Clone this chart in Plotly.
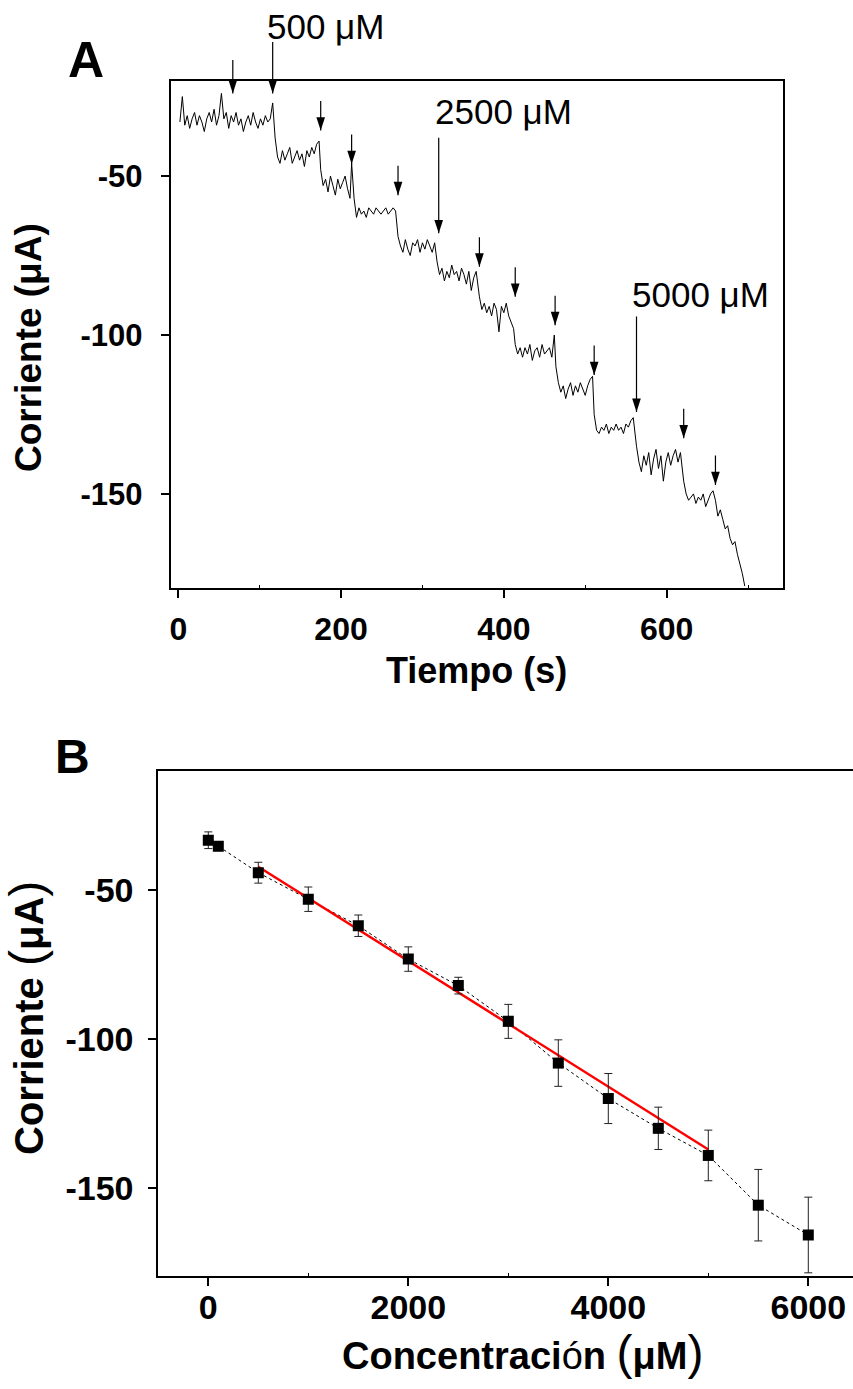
import plotly.graph_objects as go

# ---------------- Panel A: amperometric trace ----------------
sample_step_s = 3
seg_start_s = [2, 116, 175, 213, 270, 318, 370, 414, 464, 511, 563, 621, 660]
seg_0 = [-33, -25, -34, -31, -35, -32, -30, -34, -31, -33, -36, -32, -30, -33, -29, -34, -31, -24, -32,
         -30, -35, -31, -33, -30, -34, -32, -36, -33, -31, -34, -30, -33, -35, -32, -34, -31, -33, -32]
seg_1 = [-27, -38, -44, -46, -42, -45, -43, -41, -46, -44, -42, -45, -43, -47, -42, -44, -41, -43, -40, -39]
seg_2 = [-48, -53, -51, -55, -50, -53, -56, -51, -54, -52, -50, -54, -57]
seg_3 = [-46, -57, -63, -60, -62, -61, -63, -60, -61, -62, -60, -61, -62, -61, -60, -62, -61, -60, -61]
seg_4 = [-69, -72, -74, -70, -73, -75, -71, -72, -70, -74, -71, -73, -70, -72, -74, -71]
seg_5 = [-77, -81, -79, -83, -80, -82, -78, -81, -80, -83, -79, -81, -84, -80, -86, -82, -80]
seg_6 = [-88, -92, -90, -93, -91, -94, -90, -92, -99, -91, -93, -90, -94, -96, -98]
seg_7 = [-103, -106, -104, -107, -104, -106, -103, -108, -105, -104, -107, -103, -106, -105, -104, -107, -100]
seg_8 = [-110, -115, -118, -116, -120, -117, -115, -119, -116, -118, -115, -117, -119, -116, -114, -113]
seg_9 = [-125, -130, -131, -129, -130, -128, -131, -129, -130, -128, -130, -129, -131, -128, -129, -127, -126]
seg_10 = [-135, -140, -143, -138, -141, -137, -144, -139, -136, -142, -138, -146, -140, -137, -141, -138,
          -136, -140, -137]
seg_11 = [-146, -150, -152, -151, -150, -153, -151, -152, -150, -154, -152, -150, -149]
seg_12 = [-152, -157, -155, -158, -161, -160, -164, -166, -165, -169, -172, -175, -179]
segments = [seg_0, seg_1, seg_2, seg_3, seg_4, seg_5, seg_6, seg_7, seg_8, seg_9, seg_10, seg_11, seg_12]

arrow_time_s = [67, 116, 175, 213, 270, 320, 370, 414, 463, 511, 563, 621, 660]
arrow_tip_uA = [-24, -24, -35.7, -46.2, -56, -68, -78.5, -88, -96.9, -112.6, -124.2, -132.5, -147.2]
arrow_labels = ["", "500 μM", "", "", "", "2500 μM", "", "", "", "", "5000 μM", "", ""]

time_ticks = [0, 200, 400, 600]
current_ticks = [-50, -100, -150]
current_tick_text = ["-50", "-100", "-150"]

# ---------------- Panel B: calibration ----------------
conc_uM = [0, 100, 500, 1000, 1500, 2000, 2500, 3000, 3500, 4000, 4500, 5000, 5500, 6000]
current_uA = [-33.3, -35.3, -44.2, -53.1, -62.0, -73.2, -82.1, -94.1, -108.1, -120.0, -130.0, -139.1, -155.8, -165.8]
error_uA = [2.8, 1.5, 3.5, 4.1, 3.6, 4.1, 2.8, 5.7, 7.8, 8.4, 7.1, 8.5, 12.0, 12.7]
fit_conc_uM = [500, 5000]
fit_current_uA = [-42.2, -137.1]
conc_ticks = [0, 2000, 4000, 6000]

W, H = 853, 1389
FONT = "Liberation Sans, Arial, sans-serif"

time_s, trace_uA = [], []
for start, vals in zip(seg_start_s, segments):
    for i, v in enumerate(vals):
        time_s.append(start + sample_step_s * i)
        trace_uA.append(v)

fig = go.Figure()
fig.add_trace(go.Scatter(x=time_s, y=trace_uA, mode="lines",
                         line=dict(color="black", width=1), xaxis="x", yaxis="y", showlegend=False))
fig.add_trace(go.Scatter(x=arrow_time_s, y=arrow_tip_uA, mode="markers", cliponaxis=False,
                         marker=dict(symbol="arrow", angle=180, size=14, color="black", line=dict(width=0)),
                         xaxis="x", yaxis="y", showlegend=False))

# Panel B traces
fig.add_trace(go.Scatter(x=conc_uM, y=current_uA, mode="lines",
                         line=dict(color="black", width=1, dash="dot"), xaxis="x2", yaxis="y2", showlegend=False))
fig.add_trace(go.Scatter(x=fit_conc_uM, y=fit_current_uA, mode="lines",
                         line=dict(color="#ff0000", width=2.5), xaxis="x2", yaxis="y2", showlegend=False))
fig.add_trace(go.Scatter(x=conc_uM, y=current_uA, mode="markers",
                         marker=dict(symbol="square", size=11, color="black"),
                         error_y=dict(type="data", array=error_uA, color="#222222", thickness=1, width=4),
                         xaxis="x2", yaxis="y2", showlegend=False))

annotations = []
for t, tip, lab in zip(arrow_time_s, arrow_tip_uA, arrow_labels):
    if lab == "":
        length = 35 if t < 100 else 31
    elif lab.startswith("500 "):
        length = 53
    else:
        length = 97
    annotations.append(dict(x=t, y=tip, xref="x", yref="y", ax=0, ay=-length, text="",
                            showarrow=True, arrowhead=0, arrowwidth=1.2, arrowcolor="black"))

label_pos = {"500 μM": (265, 26), "2500 μM": (433, 112), "5000 μM": (630, 294)}
for lab, (px, py) in label_pos.items():
    annotations.append(dict(x=px / W, y=1 - py / H, xref="paper", yref="paper", text=lab,
                            showarrow=False, xanchor="left", yanchor="middle",
                            font=dict(family=FONT, size=35, color="black")))

def ptext(txt, px, py, size, angle=0, bold=True):
    return dict(x=px / W, y=1 - py / H, xref="paper", yref="paper", text=txt, showarrow=False,
                xanchor="center", yanchor="middle", textangle=angle,
                font=dict(family=FONT, size=size, color="black", weight="bold" if bold else "normal"))

PAREN = '<span style="font-weight:normal;font-size:48px">{}</span>'
annotations += [
    ptext("A", 86, 60, 50),
    ptext("B", 72, 757, 48),
    ptext("Tiempo (s)", 477, 670, 36),
    ptext("Corriente (μA)", 29, 348, 37, angle=-90),
    ptext("Corriente " + PAREN.format("(") + "μA" + PAREN.format(")"), 27, 1018, 40, angle=-90),
    ptext('Concentraci<span style="font-weight:normal">ó</span>n ' + PAREN.format("(") + "μM" + PAREN.format(")"),
          522, 1352, 38),
]

axis_common = dict(showgrid=False, zeroline=False, showline=True, linecolor="black", linewidth=2,
                   ticks="outside", ticklen=8, tickwidth=2, tickcolor="black")

fig.update_layout(
    width=W, height=H, margin=dict(l=0, r=0, t=0, b=0),
    paper_bgcolor="white", plot_bgcolor="white",
    xaxis=dict(domain=[170.7 / W, 783 / W], anchor="y", range=[-9.3, 743],
               tickvals=time_ticks, mirror=True, ticklabelstandoff=4,
               minor=dict(tickvals=[100, 300, 500, 700], ticks="inside", ticklen=3, tickwidth=1, tickcolor="black"),
               tickfont=dict(family=FONT, size=32, color="black", weight="bold"), **axis_common),
    yaxis=dict(domain=[1 - 588 / H, 1 - 80.7 / H], anchor="x", range=[-179.6, -20],
               tickvals=current_ticks, ticktext=current_tick_text, mirror=True, ticklabelstandoff=12,
               tickfont=dict(family=FONT, size=31, color="black", weight="bold"), **axis_common),
    xaxis2=dict(domain=[158.3 / W, 1.0], anchor="y2", range=[-500, 6447],
                tickvals=conc_ticks, mirror=True, ticklabelstandoff=-8,
                minor=dict(tickvals=[1000, 3000, 5000], ticks="inside", ticklen=3, tickwidth=1, tickcolor="black"),
                tickfont=dict(family=FONT, size=34, color="black", weight="bold"), **axis_common),
    yaxis2=dict(domain=[1 - 1276.4 / H, 1 - 771.4 / H], anchor="x2", range=[-179.7, -10.2],
                tickvals=current_ticks, ticktext=current_tick_text, mirror=False, ticklabelstandoff=8,
                tickfont=dict(family=FONT, size=34, color="black", weight="bold"), **axis_common),
    annotations=annotations,
)

fig.write_html("out.html")
